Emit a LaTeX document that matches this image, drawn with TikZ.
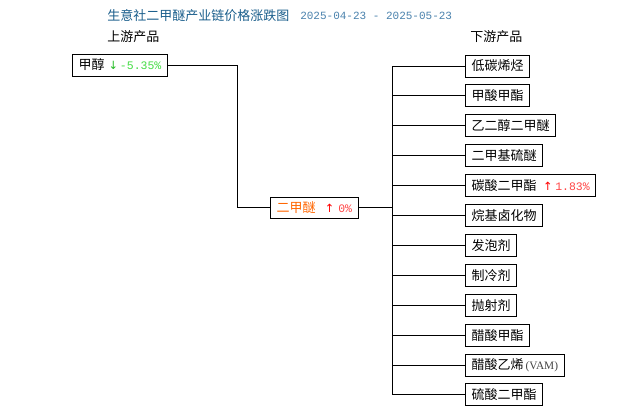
\documentclass[tikz,border=0pt]{standalone}
\usepackage{fontspec}
\setmainfont{Noto Sans CJK SC}
\newfontfamily\cjkfam{Noto Sans CJK SC}
\newfontfamily\monofam{Liberation Mono}
\newfontfamily\seriffam{Liberation Serif}
\newfontfamily\arrfam{DejaVu Sans}
\newcommand\cjkf{\fontsize{9.75pt}{10pt}\selectfont\cjkfam}
\newcommand\monof{\fontsize{8.25pt}{9pt}\selectfont\monofam}
\newcommand\numf{\fontsize{8.6pt}{9pt}\selectfont\monofam}
\newcommand\arrf{\fontsize{8.5pt}{9pt}\selectfont\arrfam}
\newcommand\vamf{\fontsize{8.5pt}{9pt}\selectfont\seriffam}
\definecolor{tA}{HTML}{1A5E8C}
\definecolor{tB}{HTML}{4A82AD}
\definecolor{orng}{HTML}{FF6600}
\definecolor{rA}{HTML}{FF0000}
\definecolor{rT}{HTML}{FF4444}
\definecolor{gA}{HTML}{22BB22}
\definecolor{gT}{HTML}{44DD44}
\definecolor{vamc}{HTML}{444444}
\begin{document}
\begin{tikzpicture}[x=0.75pt,y=-0.75pt,
  box/.style={draw=black, line width=0.75pt, inner xsep=4.5pt, inner ysep=0pt,
    minimum height=16.5pt, anchor=west, font=\cjkf},
  lbl/.style={anchor=west, inner sep=0pt},
  ln/.style={line width=0.75pt, draw=black}]
\useasboundingbox (0,0) rectangle (630,415);
\fill[white] (0,0) rectangle (630,415);

% titles
\node[lbl, font=\cjkf, text=tA] (title) at (107,16) {生意社二甲醚产业链价格涨跌图};
\node[lbl, font=\monof, text=tB] (date) at (300,16) {2025-04-23 - 2025-05-23};
\node[lbl, font=\cjkf] (uplab) at (107,37) {上游产品};
\node[lbl, font=\cjkf] (downlab) at (470,37) {下游产品};

% upstream
\node[box] (up) at (72,65) {甲醇\hspace{3pt}{\arrf\color{gA}↓}\hspace{1.5pt}{\numf\color{gT}-5.35\%}};

% center
\node[box, minimum height=15.75pt] (mid) at (270,207.5)
  {{\color{orng}二甲醚}\hspace{7pt}{\arrf\color{rA}↑}\hspace{3pt}{\numf\color{rT}0\%}\hspace{5pt}};

% downstream
\node[box] (d0) at (465,66) {低碳烯烃};
\node[box] (d1) at (465,95.9) {甲酸甲酯};
\node[box] (d2) at (465,125.8) {乙二醇二甲醚};
\node[box] (d3) at (465,155.7) {二甲基硫醚};
\node[box] (d4) at (465,185.6) {碳酸二甲酯\hspace{5pt}{\arrf\color{rA}↑}\hspace{2pt}{\numf\color{rT}1.83\%}};
\node[box] (d5) at (465,215.5) {烷基卤化物};
\node[box] (d6) at (465,245.4) {发泡剂};
\node[box] (d7) at (465,275.3) {制冷剂};
\node[box] (d8) at (465,305.2) {抛射剂};
\node[box] (d9) at (465,335.1) {醋酸甲酯};
\node[box] (d10) at (465,365) {醋酸乙烯\hspace{1.5pt}{\vamf\color{vamc}(VAM)}};
\node[box] (d11) at (465,394.9) {硫酸二甲酯};

% connectors
\coordinate (k) at (237,65);
\draw[ln] (up.east) -- (k) |- (mid.west);
\coordinate (bt) at (392,66);
\coordinate (bb) at (392,394.9);
\draw[ln] (bt) -- (bb);
\draw[ln] (mid.east) -- (mid.east -| bt);
\foreach \d in {d0,d1,d2,d3,d4,d5,d6,d7,d8,d9,d10,d11}
  \draw[ln] (\d.west -| bt) -- (\d.west);
\end{tikzpicture}
\end{document}
